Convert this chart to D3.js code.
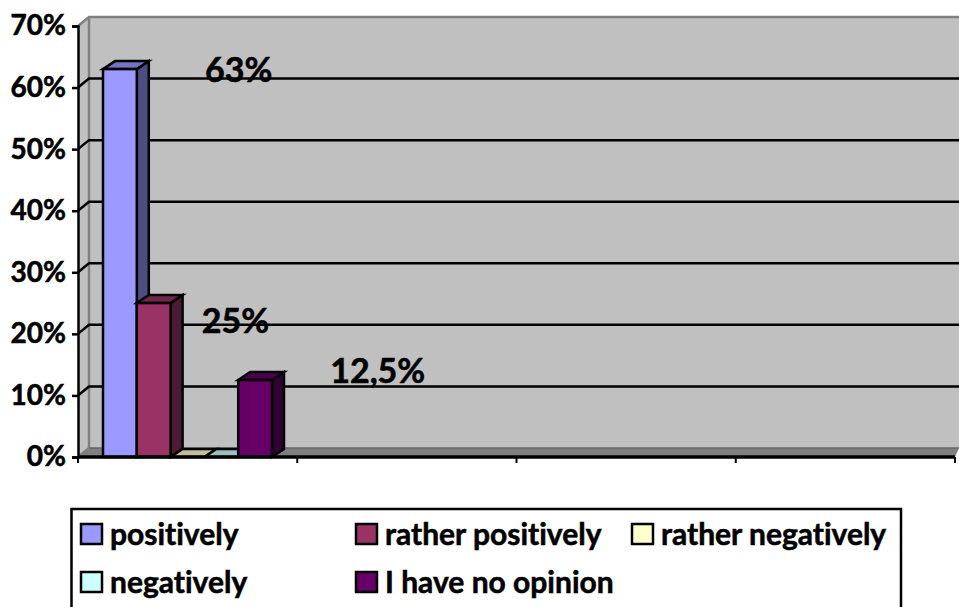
<!DOCTYPE html>
<html>
<head>
<meta charset="utf-8">
<script src="https://cdn.jsdelivr.net/npm/d3@7"></script>
<style>
html,body{margin:0;padding:0;background:#fff;overflow:hidden}
text{font-family:Lato,"Open Sans",sans-serif;font-weight:700;fill:#000;stroke:#000;stroke-width:0.55px;font-variant-ligatures:none}
</style>
</head>
<body>
<svg id="chart" width="959" height="607"></svg>
<script>
// Survey answers, shown as one cluster on a four-slot category axis
const categories = ["answers", "slot2", "slot3", "slot4"];
const seriesNames = ["positively", "rather positively", "rather negatively", "negatively", "I have no opinion"];
const seriesValues = [63, 25, 0, 0, 12.5];
const valueLabels = ["63%", "25%", "", "", "12,5%"];
const seriesColors = ["#9999ff", "#993366", "#ffffcc", "#ccffff", "#660066"];
const yTicks = [0, 10, 20, 30, 40, 50, 60, 70];

const svg = d3.select("#chart");
const depthWall = {x: 11, y: -9};
const depthBar = {x: 12, y: -8};

const y = d3.scaleLinear().domain([0, 70]).range([457, 26]);
const x0 = d3.scaleBand().domain(categories).range([78, 955]);
const x1 = d3.scaleBand().domain(seriesNames).range([x0("answers") + 25, x0("answers") + 194]);

const poly = pts => pts.map(p => p.join(",")).join(" ");
const xL = x0.range()[0], xR = x0.range()[1];
const yB = y(0), yT = y(70);

// Walls and floor of the 3D plot box
svg.append("polygon")
  .attr("points", poly([[xL + depthWall.x, yT + depthWall.y], [959, yT + depthWall.y], [959, yB + depthWall.y], [xL + depthWall.x, yB + depthWall.y]]))
  .attr("fill", "#c0c0c0");
svg.append("polygon")
  .attr("points", poly([[xL, yT], [xL + depthWall.x, yT + depthWall.y], [xL + depthWall.x, yB + depthWall.y], [xL, yB]]))
  .attr("fill", "#c0c0c0");
svg.append("polygon")
  .attr("points", poly([[xL, yB], [xL + depthWall.x, yB + depthWall.y], [959, yB + depthWall.y], [xR, yB]]))
  .attr("fill", "#808080");

// Wall edges
const edge = svg.append("g").attr("fill", "none").attr("stroke", "#808080");
edge.append("path").attr("stroke-width", 2.5)
  .attr("d", `M${xL},${yT}L${xL + depthWall.x},${yT + depthWall.y}L959,${yT + depthWall.y}`);
edge.append("path").attr("stroke-width", 2.5)
  .attr("d", `M${xL + depthWall.x},${yT + depthWall.y}V${yB + depthWall.y}L${xL},${yB}`);
edge.append("path").attr("stroke-width", 1.5).attr("stroke", "#666")
  .attr("d", `M${xL + depthWall.x},${yB + depthWall.y}H959`);

// Gridlines run along the side wall, then across the back wall
svg.append("g").selectAll("path")
  .data(yTicks.filter(t => t > 0 && t < 70))
  .join("path")
  .attr("fill", "none")
  .attr("stroke", "#000")
  .attr("stroke-width", 2.5)
  .attr("d", d => `M${xL},${y(d)}L${xL + depthWall.x},${y(d) + depthWall.y}H959`);

// Bars: side face, top face, front face
const shade = (c, k) => {
  const r = d3.rgb(c);
  return d3.rgb(r.r * k, r.g * k, r.b * k).formatHex();
};
const bars = svg.append("g").selectAll("g")
  .data(seriesNames.map((name, i) => ({name, value: seriesValues[i], color: seriesColors[i]})))
  .join("g")
  .attr("stroke", "#000")
  .attr("stroke-width", 2.5)
  .attr("stroke-linejoin", "miter");
bars.filter(d => d.value > 0).append("polygon")
  .attr("fill", d => shade(d.color, 0.5))
  .attr("points", d => {
    const r = x1(d.name) + x1.bandwidth();
    return poly([[r, y(d.value)], [r + depthBar.x, y(d.value) + depthBar.y], [r + depthBar.x, yB + depthBar.y], [r, yB]]);
  });
bars.append("polygon")
  .attr("fill", d => shade(d.color, 0.75))
  .attr("points", d => {
    const l = x1(d.name), r = l + x1.bandwidth(), t = y(d.value);
    return poly([[l, t], [l + depthBar.x, t + depthBar.y], [r + depthBar.x, t + depthBar.y], [r, t]]);
  });
bars.filter(d => d.value > 0).append("rect")
  .attr("fill", d => d.color)
  .attr("x", d => x1(d.name))
  .attr("y", d => y(d.value))
  .attr("width", x1.bandwidth())
  .attr("height", d => yB - y(d.value));

// Front axes
const yAxis = d3.axisLeft(y).tickValues(yTicks).tickFormat(d => d + "%").tickSize(6).tickPadding(6);
const gy = svg.append("g").attr("transform", `translate(${xL},0)`).call(yAxis);
gy.selectAll("path,line").attr("stroke", "#000").attr("stroke-width", 2.5);
gy.selectAll("text").style("font-size", "28px").attr("dy", "0.32em")
  .style("font-family", "Lato,'Open Sans',sans-serif").style("font-weight", 700);

const xAxis = d3.axisBottom(x0).tickSize(6).tickFormat("");
const gx = svg.append("g").attr("transform", `translate(0,${yB})`).call(xAxis);
gx.selectAll(".tick").remove();
gx.select("path").attr("stroke", "#000").attr("stroke-width", 3.5).attr("d", `M${xL},0H${xR}`);
gx.selectAll("line.edge")
  .data([...categories.map(c => x0(c)), xR])
  .join("line")
  .attr("x1", d => d).attr("x2", d => d)
  .attr("y1", 0).attr("y2", 6)
  .attr("stroke", "#000").attr("stroke-width", 2);

// Value labels sit away from the bars they describe
const labelShift = {"positively": [102, 1], "rather positively": [65, 18], "I have no opinion": [92, -9]};
svg.append("g").selectAll("text")
  .data(seriesNames.map((name, i) => ({name, value: seriesValues[i], label: valueLabels[i]})).filter(d => d.label))
  .join("text")
  .attr("x", d => x1(d.name) + labelShift[d.name][0])
  .attr("y", d => y(d.value) + labelShift[d.name][1] + 12)
  .style("font-size", "34px")
  .text(d => d.label);

// Legend: box runs past the bottom of the frame
const legend = svg.append("g");
legend.append("rect")
  .attr("x", 71.5).attr("y", 509).attr("width", 829.5).attr("height", 120)
  .attr("fill", "#fff").attr("stroke", "#000").attr("stroke-width", 2.5);
const legendCols = d3.scaleOrdinal().domain([0, 1, 2]).range([81, 356, 632]);
const legendRows = d3.scaleOrdinal().domain([0, 1]).range([524, 572]);
const items = legend.selectAll("g.item")
  .data(seriesNames.map((name, i) => ({name, color: seriesColors[i], col: i % 3, row: Math.floor(i / 3)})))
  .join("g")
  .attr("transform", d => `translate(${legendCols(d.col)},${legendRows(d.row)})`);
items.append("rect")
  .attr("width", 21).attr("height", 20)
  .attr("fill", d => d.color).attr("stroke", "#000").attr("stroke-width", 2.5);
items.append("text")
  .attr("x", 29).attr("y", 21)
  .style("font-size", "30px")
  .text(d => d.name);
</script>
</body>
</html>
